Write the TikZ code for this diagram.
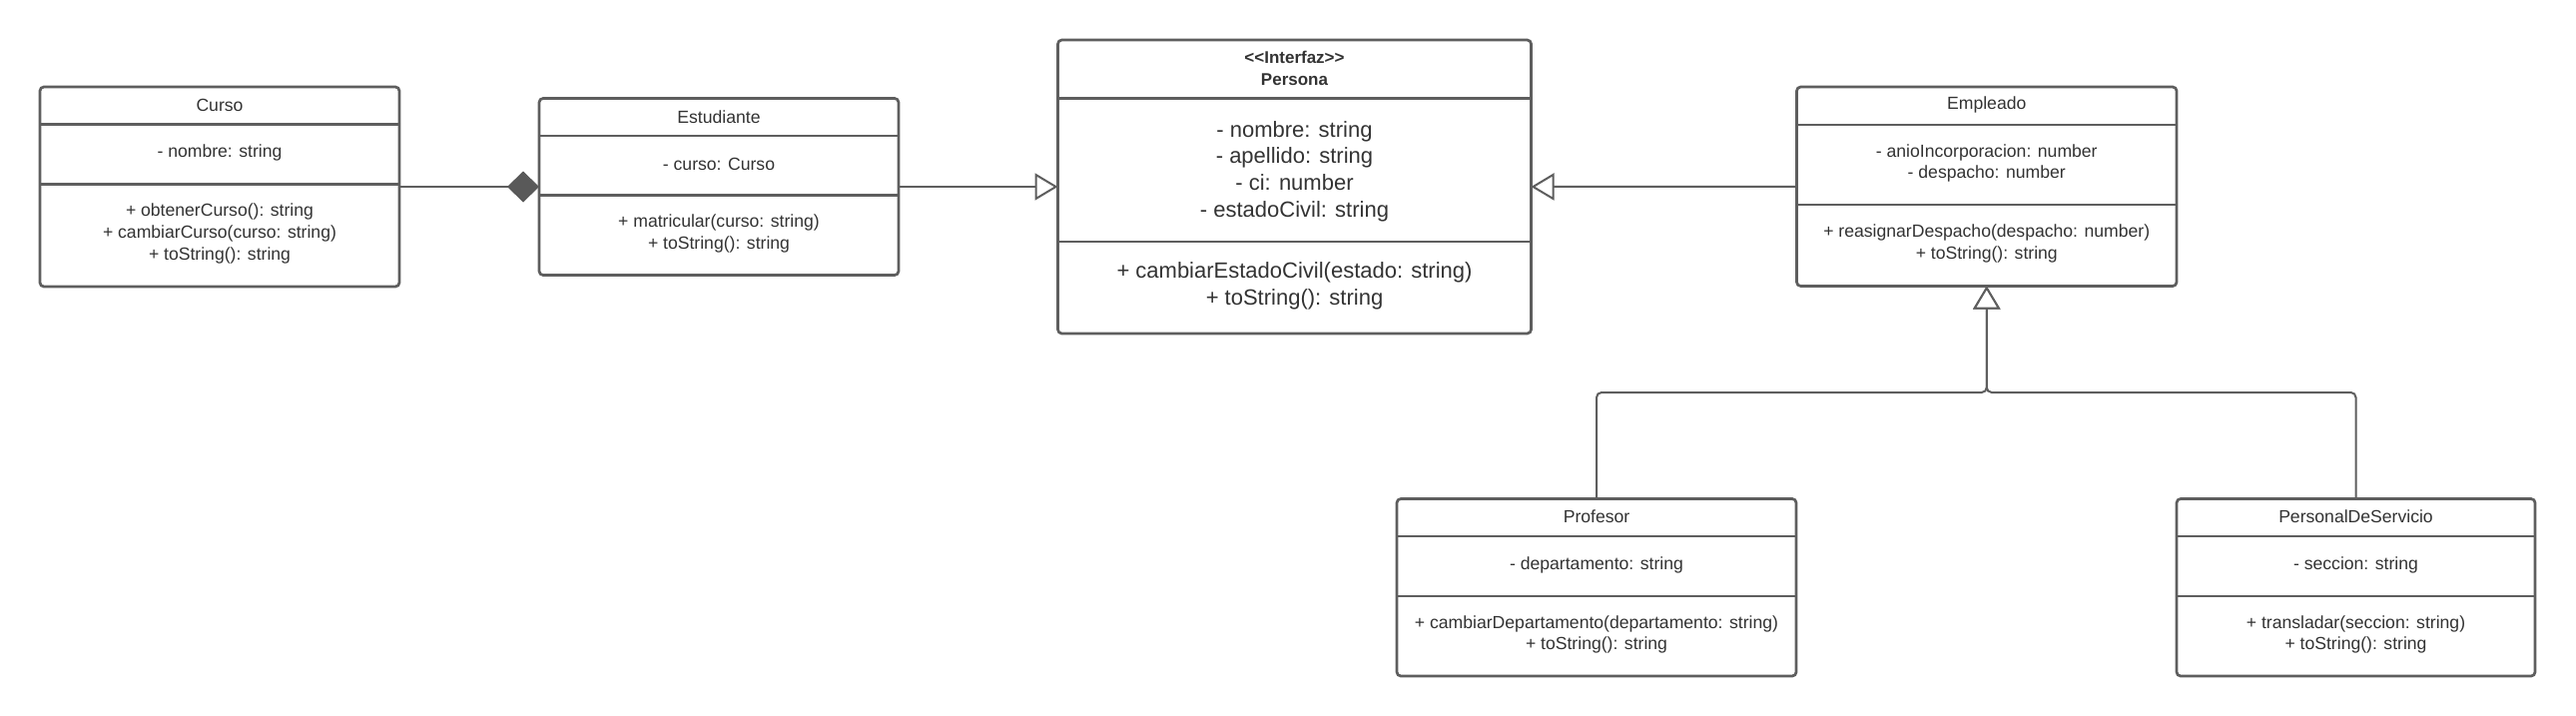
\documentclass[tikz,border=0pt]{standalone}
\usepackage{fontspec}
\setmainfont{Liberation Sans}
\usetikzlibrary{arrows.meta}
\definecolor{bordergray}{HTML}{5E5E5E}
\definecolor{txtgray}{HTML}{333333}
\definecolor{diamgray}{HTML}{595959}
\tikzset{
  classbox/.style={draw=bordergray, line width=2.7pt, rounded corners=4pt, fill=white, anchor=north west, inner sep=0pt, outer sep=0pt},
  divider/.style={draw=bordergray, line width=2.7pt},
  txt/.style={text=txtgray, font=\fontsize{17.6}{21.7}\selectfont, align=center, inner sep=0pt},
  bigtxt/.style={text=txtgray, font=\fontsize{22}{26.7}\selectfont, align=center, inner sep=0pt},
  titletxt/.style={text=txtgray, font=\fontsize{17}{21.7}\selectfont\bfseries, align=center, inner sep=0pt},
  conn/.style={draw=bordergray, line width=2pt},
  gen/.style={conn, -{Triangle[open, length=23pt, width=27pt, fill=white]}},
  comp/.style={conn, -{Diamond[length=32pt, width=31pt, fill=diamgray, color=diamgray]}},
}
\begin{document}
\begin{tikzpicture}[x=1pt,y=-1pt]
\useasboundingbox[fill=white] (0,0) rectangle (2580,717);

% Curso
\node[classbox, minimum width=360pt, minimum height=200pt] (curso) at (40,87) {};
\draw[divider] (40,124.5) -- (400,124.5);
\draw[divider] (40,184.5) -- (400,184.5);
\node[txt] (curso-t) at (220,105.5) {Curso};
\node[txt] (curso-a) at (220,153) {- nombre: string};
\node[txt] (curso-m) at (220,234) {+ obtenerCurso(): string\\+ cambiarCurso(curso: string)\\+ toString(): string};

% Estudiante
\node[classbox, minimum width=360pt, minimum height=177pt] (estud) at (540,98.5) {};
\draw[divider] (540,136) -- (900,136);
\draw[divider] (540,195.5) -- (900,195.5);
\node[txt] (estud-t) at (720,117) {Estudiante};
\node[txt] (estud-a) at (720,164.5) {- curso: Curso};
\node[txt] (estud-m) at (720,234) {+ matricular(curso: string)\\+ toString(): string};

% Persona
\node[classbox, minimum width=474pt, minimum height=294pt] (persona) at (1059.5,40) {};
\draw[divider] (1059.5,98.5) -- (1533.5,98.5);
\draw[divider] (1059.5,242) -- (1533.5,242);
\node[titletxt] (persona-t) at (1296.5,68.5) {<\kern0pt<Interfaz>\kern0pt>\\Persona};
\node[bigtxt] (persona-a) at (1296.5,171.5) {- nombre: string\\- apellido: string\\- ci: number\\- estadoCivil: string};
\node[bigtxt] (persona-m) at (1296.5,286.5) {+ cambiarEstadoCivil(estado: string)\\+ toString(): string};

% Empleado
\node[classbox, minimum width=380.5pt, minimum height=199.5pt] (emp) at (1799.5,87) {};
\draw[divider] (1799.5,125) -- (2180,125);
\draw[divider] (1799.5,205) -- (2180,205);
\node[txt] (emp-t) at (1989.75,105) {Empleado};
\node[txt] (emp-a) at (1989.75,163.5) {- anioIncorporacion: number\\- despacho: number};
\node[txt] (emp-m) at (1989.75,244) {+ reasignarDespacho(despacho: number)\\+ toString(): string};

% Profesor
\node[classbox, minimum width=400pt, minimum height=177.5pt] (prof) at (1399,499.5) {};
\draw[divider] (1399,537) -- (1799,537);
\draw[divider] (1399,597) -- (1799,597);
\node[txt] (prof-t) at (1599,517.5) {Profesor};
\node[txt] (prof-a) at (1599,565.5) {- departamento: string};
\node[txt] (prof-m) at (1599,635.5) {+ cambiarDepartamento(departamento: string)\\+ toString(): string};

% PersonalDeServicio
\node[classbox, minimum width=359pt, minimum height=177.5pt] (pds) at (2180,499.5) {};
\draw[divider] (2180,537) -- (2539,537);
\draw[divider] (2180,597) -- (2539,597);
\node[txt] (pds-t) at (2359.5,517.5) {PersonalDeServicio};
\node[txt] (pds-a) at (2359.5,565.5) {- seccion: string};
\node[txt] (pds-m) at (2359.5,635.5) {+ transladar(seccion: string)\\+ toString(): string};

% connectors
\draw[comp] (curso.east) -- (estud.west);
\draw[gen] (estud.east) -- (persona.west);
\draw[gen] (emp.west) -- (persona.east);
\coordinate (bus) at (1989.75,393);
\draw[gen, rounded corners=5pt] (prof.north) |- (bus) -- (emp.south);
\draw[gen, rounded corners=5pt] (pds.north) |- (bus) -- (emp.south);
\end{tikzpicture}
\end{document}
